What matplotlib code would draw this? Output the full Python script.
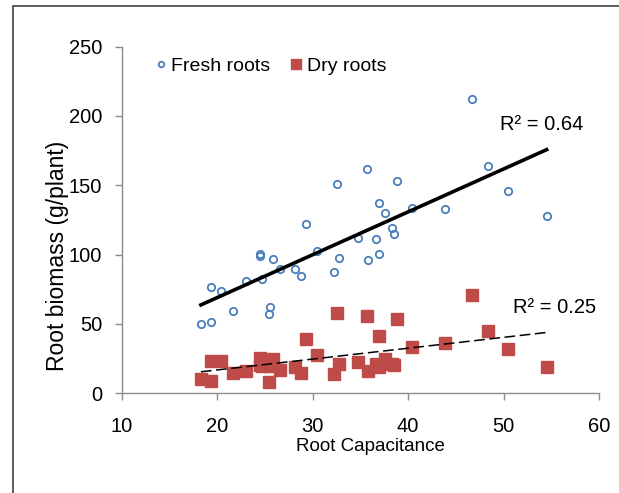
import numpy as np
import matplotlib
matplotlib.use("Agg")
import matplotlib.pyplot as plt
from matplotlib.patches import Rectangle
from matplotlib.font_manager import FontProperties

# ---- data ----
capacitance = [46.65, 48.4, 35.7, 32.6, 38.8, 50.5, 36.9, 37.6, 40.4, 43.9, 54.5, 29.3,
               38.3, 38.5, 34.7, 36.6, 30.5, 24.5, 24.5, 36.9, 32.8, 25.9, 35.8, 26.6,
               28.2, 24.7, 28.8, 32.2, 23.0, 19.4, 20.4, 21.7, 25.5, 25.4, 18.3, 19.4]
fresh = [212.1, 163.6, 162.0, 150.9, 153.3, 146.1, 137.2, 130.3, 133.6, 133.2, 127.9, 121.9,
         119.5, 114.7, 111.8, 111.3, 102.9, 100.8, 99.3, 100.3, 97.4, 96.9, 96.0, 89.7,
         89.7, 82.5, 84.9, 87.3, 81.1, 76.3, 74.1, 59.7, 62.4, 57.1, 50.1, 51.1]
dry = [70.8, 44.9, 56.1, 57.6, 53.7, 32.1, 41.3, 24.5, 33.6, 36.0, 19.2, 39.3,
       21.0, 20.5, 22.8, 21.0, 27.6, 25.2, 20.4, 19.0, 21.1, 24.7, 16.0, 16.8,
       19.2, 20.0, 14.4, 13.9, 16.3, 23.5, 23.5, 14.4, 19.7, 8.4, 10.1, 9.1]
series_names = ["Fresh roots", "Dry roots"]
r2_labels = ["R\u00b2 = 0.64", "R\u00b2 = 0.25"]
x_ticks = [10, 20, 30, 40, 50, 60]
y_ticks = [0, 50, 100, 150, 200, 250]

font = ["Liberation Sans", "DejaVu Sans"]

fig = plt.figure(figsize=(6.19, 4.93), dpi=100)
ax = fig.add_axes([0.1965, 0.2022, 0.7715, 0.7033])

x = np.array(capacitance)
blue = "#4a7ebb"
red = "#be4b48"

ax.plot(x, dry, linestyle="none", marker="s", markersize=9, color=red,
        markeredgecolor=red, label=series_names[1], zorder=3)
ax.plot(x, fresh, linestyle="none", marker="o", markersize=5.3, markerfacecolor="none",
        markeredgecolor=blue, markeredgewidth=1.3, label=series_names[0], zorder=4)

xs = np.array([x.min(), x.max()])
cf = np.polyfit(x, fresh, 1)
cd = np.polyfit(x, dry, 1)
ax.plot(xs, np.polyval(cf, xs), color="black", lw=2.6, zorder=5)
ax.plot(xs, np.polyval(cd, xs), color="black", lw=1.1, dashes=(7, 3), zorder=5)

ax.text(49.6, 194, r2_labels[0], family=font, fontsize=14.5, va="center", ha="left")
ax.text(51.0, 62, r2_labels[1], family=font, fontsize=14.5, va="center", ha="left")

ax.set_xlim(10, 60)
ax.set_ylim(0, 250)
ax.set_xticks(x_ticks)
ax.set_yticks(y_ticks)
for s in ["top", "right"]:
    ax.spines[s].set_visible(False)
for s in ["left", "bottom"]:
    ax.spines[s].set_color("#8c8c8c")
    ax.spines[s].set_linewidth(1.0)
ax.tick_params(axis="both", direction="out", length=5, width=1.0, color="#8c8c8c")
ax.tick_params(axis="y", pad=9)
ax.tick_params(axis="x", pad=12)
for lab in ax.get_xticklabels() + ax.get_yticklabels():
    lab.set_family(font)
    lab.set_fontsize(14.5)

ax.set_xlabel("Root Capacitance", family=font, fontsize=13.5)
ax.xaxis.set_label_coords(0.52, -0.128)
ax.set_ylabel("Root biomass (g/plant)", family=font, fontsize=16.5)
ax.yaxis.set_label_coords(-0.11, 0.396)

h, l = ax.get_legend_handles_labels()
leg = ax.legend([h[1], h[0]], [l[1], l[0]], loc="upper left", ncol=2, frameon=False,
                prop=FontProperties(family=font, size=14), handlelength=0.6,
                handletextpad=0.25, columnspacing=1.0, markerscale=0.75,
                bbox_to_anchor=(0.033, 1.02))

# figure border
fig.patches.append(Rectangle((12.5 / 619, -0.1), 1.2, 1 - 6.5 / 493 + 0.1,
                             transform=fig.transFigure, fill=False,
                             edgecolor="#404040", linewidth=1.2))

fig.savefig("out.png", dpi=100)
